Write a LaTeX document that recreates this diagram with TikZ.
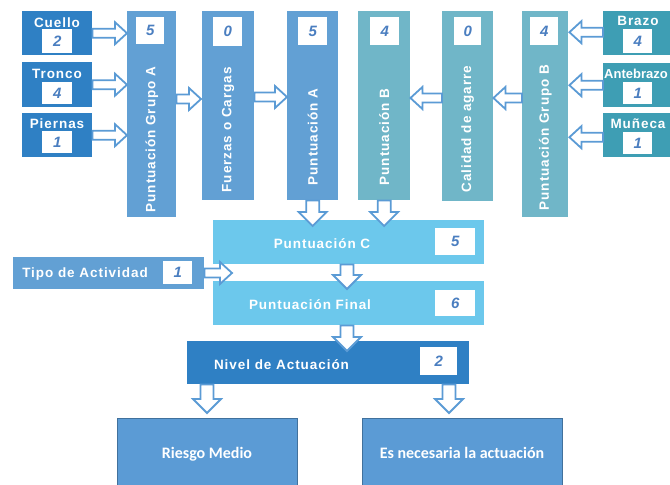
\documentclass[tikz,border=0pt]{standalone}
\usepackage{fontspec}
\setmainfont{Liberation Sans}
\newfontfamily\lblfont[LetterSpace=7]{Liberation Sans}
\newfontfamily\lblnarrow[LetterSpace=0]{Liberation Sans}
\newfontfamily\numfont{Liberation Sans}
\newfontfamily\calfont{Carlito}
\usetikzlibrary{calc}
\definecolor{lbox}{HTML}{2F80C4}
\definecolor{colA}{HTML}{62A0D4}
\definecolor{colB}{HTML}{70B6C8}
\definecolor{rbox}{HTML}{3E9EB4}
\definecolor{colC}{HTML}{6CC8EC}
\definecolor{botc}{HTML}{5B9BD5}
\definecolor{botb}{HTML}{41719C}
\definecolor{arrc}{HTML}{5B9BD5}
\definecolor{numc}{HTML}{4A7EC0}
\tikzset{
  blk/.style={inner sep=0pt, anchor=north west, draw=none},
  lbl/.style={text=white, inner sep=0pt, font=\lblfont\bfseries\fontsize{13.5}{15}\selectfont},
  vlbl/.style={lbl, rotate=90, anchor=west},
  num/.style={fill=white, inner sep=0pt, anchor=north west, text=numc,
    font=\numfont\bfseries\itshape\fontsize{15}{16}\selectfont},
  botlbl/.style={text=white, inner sep=0pt, anchor=base, font=\calfont\bfseries\fontsize{16}{18}\selectfont},
  arrbase/.style={draw=arrc, fill=white, line width=1.8pt, line join=miter},
  arrR/.style={arrbase, to path={let \p1=(\tikztostart), \p2=(\tikztotarget) in
    (\x1,\y1+4.5pt) -- (\x2-12pt,\y1+4.5pt) -- (\x2-12pt,\y1+11pt) -- (\x2,\y1)
    -- (\x2-12pt,\y1-11pt) -- (\x2-12pt,\y1-4.5pt) -- (\x1,\y1-4.5pt) -- cycle}},
  arrL/.style={arrbase, to path={let \p1=(\tikztostart), \p2=(\tikztotarget) in
    (\x1,\y1+4.5pt) -- (\x2+12pt,\y1+4.5pt) -- (\x2+12pt,\y1+11pt) -- (\x2,\y1)
    -- (\x2+12pt,\y1-11pt) -- (\x2+12pt,\y1-4.5pt) -- (\x1,\y1-4.5pt) -- cycle}},
  arrD/.style={arrbase, to path={let \p1=(\tikztostart), \p2=(\tikztotarget) in
    (\x1-6.5pt,\y1) -- (\x1-6.5pt,\y2+14pt) -- (\x1-14pt,\y2+14pt) -- (\x1,\y2)
    -- (\x1+14pt,\y2+14pt) -- (\x1+6.5pt,\y2+14pt) -- (\x1+6.5pt,\y1) -- cycle}},
}
\begin{document}
\begin{tikzpicture}[x=1pt,y=-1pt]
\useasboundingbox (0,0) rectangle (670,485);
\fill[white] (0,0) rectangle (670,485);

% left boxes
\node[blk, fill=lbox, minimum width=70pt, minimum height=44pt] (cuello) at (22,11) {};
\node[lbl, anchor=base] (cuellot) at (57,27) {Cuello};
\node[num, minimum width=30pt, minimum height=24pt] (cuellon) at (42,29) {2};
\node[blk, fill=lbox, minimum width=70pt, minimum height=45pt] (tronco) at (22,62) {};
\node[lbl, anchor=base] (troncot) at (57,78) {Tronco};
\node[num, minimum width=30pt, minimum height=22pt] (tronconn) at (42,82) {4};
\node[blk, fill=lbox, minimum width=70pt, minimum height=44pt] (piernas) at (22,113) {};
\node[lbl, anchor=base] (piernast) at (57,128) {Piernas};
\node[num, minimum width=30pt, minimum height=22pt] (piernasn) at (42,131) {1};

% columns
\node[blk, fill=colA, minimum width=49pt, minimum height=206pt] (ga) at (127,11) {};
\node[num, minimum width=28pt, minimum height=27pt] (gan) at (136,17) {5};
\node[vlbl] (gat) at ($(ga.south)+(0,-5)$) {Puntuación Grupo A};

\node[blk, fill=colA, minimum width=52pt, minimum height=189pt] (fz) at (202,11) {};
\node[num, minimum width=29pt, minimum height=29pt] (fzn) at (213,17) {0};
\node[vlbl] (fzt) at ($(fz.south)+(0,-8)$) {Fuerzas o Cargas};

\node[blk, fill=colA, minimum width=51pt, minimum height=189pt] (pa) at (287,11) {};
\node[num, minimum width=29pt, minimum height=28pt] (pan) at (298,17) {5};
\node[vlbl] (pat) at ($(pa.south)+(0,-15)$) {Puntuación A};

\node[blk, fill=colB, minimum width=52pt, minimum height=189pt] (pb) at (358,11) {};
\node[num, minimum width=29pt, minimum height=28pt] (pbn) at (370,17) {4};
\node[vlbl] (pbt) at ($(pb.south)+(0,-15)$) {Puntuación B};

\node[blk, fill=colB, minimum width=51pt, minimum height=190pt] (cal) at (442,11) {};
\node[num, minimum width=27pt, minimum height=28pt] (caln) at (454,17) {0};
\node[vlbl] (calt) at ($(cal.south)+(0,-9)$) {Calidad de agarre};

\node[blk, fill=colB, minimum width=46pt, minimum height=206pt] (gb) at (522,11) {};
\node[num, minimum width=28pt, minimum height=28pt] (gbn) at (530,17) {4};
\node[vlbl] (gbt) at ($(gb.south)+(0,-7)$) {Puntuación Grupo B};

% right boxes
\node[blk, fill=rbox, minimum width=70pt, minimum height=44pt] (brazo) at (603,11) {};
\node[lbl, anchor=base] (brazot) at (638,25) {Brazo};
\node[num, minimum width=29pt, minimum height=24pt] (brazon) at (623,29) {4};
\node[blk, fill=rbox, minimum width=70pt, minimum height=44pt] (ante) at (603,63) {};
\node[lbl, anchor=base, font=\lblnarrow\bfseries\fontsize{13}{15}\selectfont] (antet) at (636,78) {Antebrazo};
\node[num, minimum width=29pt, minimum height=22pt] (anten) at (623,82) {1};
\node[blk, fill=rbox, minimum width=70pt, minimum height=44pt] (muneca) at (603,113) {};
\node[lbl, anchor=base] (munecat) at (638,128) {Muñeca};
\node[num, minimum width=29pt, minimum height=22pt] (munecan) at (623,132) {1};

% middle rows
\node[blk, fill=colC, minimum width=271pt, minimum height=44pt] (pc) at (213,220) {};
\node[lbl, anchor=base] (pct) at (322,248) {Puntuación C};
\node[num, minimum width=40pt, minimum height=27pt] (pcn) at (435,228) {5};

\node[blk, fill=colC, minimum width=271pt, minimum height=44pt] (pf) at (213,281) {};
\node[lbl, anchor=base] (pft) at (310,309) {Puntuación Final};
\node[num, minimum width=40pt, minimum height=26pt] (pfn) at (435,290) {6};

\node[blk, fill=colA, minimum width=191pt, minimum height=32pt] (tipo) at (13,257) {};
\node[lbl, anchor=base] (tipot) at (85,277) {Tipo de Actividad};
\node[num, minimum width=29pt, minimum height=23pt] (tipon) at (163,261) {1};
\coordinate (tipoend) at (232,273);

\node[blk, fill=lbox, minimum width=282pt, minimum height=43pt] (nv) at (187,341) {};
\node[lbl, anchor=base] (nvt) at (281.5,369) {Nivel de Actuación};
\node[num, minimum width=37pt, minimum height=28pt] (nvn) at (420,347) {2};

% bottom boxes
\node[blk, fill=botc, draw=botb, line width=0.8pt, minimum width=180pt, minimum height=75pt] (rm) at (117,418) {};
\node[botlbl] (rmt) at (207,458) {Riesgo Medio};
\node[blk, fill=botc, draw=botb, line width=0.8pt, minimum width=200pt, minimum height=75pt] (en) at (362,418) {};
\node[botlbl] (ent) at (462,458) {Es necesaria la actuación};

% arrows
\draw[arrR] (cuello.east) to (ga.west |- cuello.east);
\draw[arrR] (tronco.east) to (ga.west |- tronco.east);
\draw[arrR] (piernas.east) to (ga.west |- piernas.east);
\coordinate (yab) at (0,99);
\draw[arrR] (ga.east |- yab) to ($(fz.west |- yab)+(-1,0)$);
\coordinate (yfa) at (0,97);
\draw[arrR] (fz.east |- yfa) to (pa.west |- yfa);
\coordinate (yb) at (0,98);
\draw[arrL] (cal.west |- yb) to (pb.east |- yb);
\draw[arrL] (gb.west |- yb) to (cal.east |- yb);
\draw[arrL] ($(brazo.west)+(0,-1)$) to ($(gb.east |- brazo.west)+(1,-1)$);
\draw[arrL] (ante.west) to ($(gb.east |- ante.west)+(1,0)$);
\draw[arrL] ($(muneca.west)+(0,2)$) to ($(gb.east |- muneca.west)+(1,2)$);
\draw[arrR] (tipo.east |- tipoend) to (tipoend);
\draw[arrD] (pa.south) to ($(pa.south |- pc.north)+(0,6)$);
\draw[arrD] (pb.south) to ($(pb.south |- pc.north)+(0,6)$);
\coordinate (xc) at (347,0);
\draw[arrD] (xc |- pc.south) to ($(xc |- pf.north)+(0,8)$);
\draw[arrD] (xc |- pf.south) to ($(xc |- nv.north)+(0,10)$);
\coordinate (xl) at (207,0);
\coordinate (xr) at (449,0);
\draw[arrD] (xl |- nv.south) to ($(xl |- rm.north)+(0,-5)$);
\draw[arrD] (xr |- nv.south) to ($(xr |- en.north)+(0,-5)$);
\end{tikzpicture}
\end{document}
